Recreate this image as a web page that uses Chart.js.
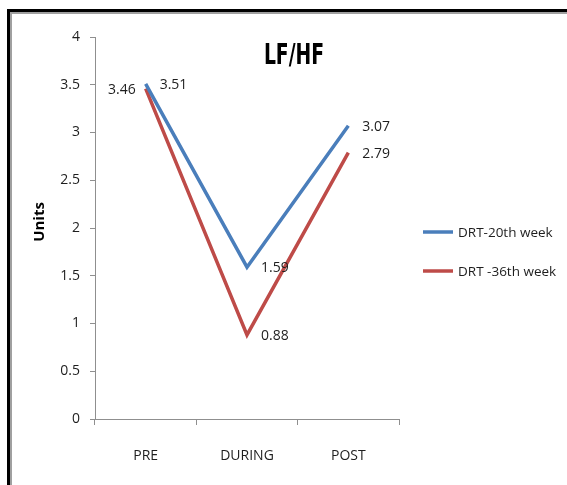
<!DOCTYPE html>
<html>
<head>
<meta charset="utf-8">
<script src="https://cdn.jsdelivr.net/npm/chart.js@4"></script>
<style>
  html, body { margin: 0; padding: 0; background: #fff; overflow: hidden; }
  #wrap { position: relative; width: 567px; height: 485px; }
  #c { position: absolute; left: 0; top: 0; }
  .edge { position: absolute; background: #000; }
</style>
</head>
<body>
<div id="wrap">
  <canvas id="c" width="567" height="485"></canvas>
  <!-- page frame: heavy black rule with a grey inner line -->
  <div class="edge" style="left:7px;top:9px;width:560px;height:3px"></div>
  <div class="edge" style="left:10px;top:12px;width:557px;height:2px;background:#a0a0a0"></div>
  <div class="edge" style="left:7px;top:9px;width:3px;height:476px"></div>
  <div class="edge" style="left:10px;top:12px;width:2px;height:473px;background:#a0a0a0"></div>
</div>
<script>
// LF/HF ratio across the session, two measurement weeks
const categories = ['PRE', 'DURING', 'POST'];
const week20 = [3.51, 1.59, 3.07];
const week36 = [3.46, 0.88, 2.79];
const seriesNames = ['DRT-20th week', 'DRT -36th week'];
const yMin = 0, yMax = 4, yStep = 0.5;
const chartTitle = 'LF/HF';
const yTitle = 'Units';

const BLUE = '#4A7EBB';
const RED = '#BE4B48';
const TEXT = '#1e1e1e';
const AXIS = '#8f8f8f';
const BODY_FONT = '"Open Sans", "DejaVu Sans", sans-serif';
const TITLE_FONT = '"DejaVu Sans Condensed", "DejaVu Sans", sans-serif';

// value labels next to each vertex; 'left' puts the text before the point
const labelSide = [['right', 'right', 'right'], ['left', 'right', 'right']];

const decorations = {
  id: 'decorations',
  afterDatasetsDraw(chart) {
    const ctx = chart.ctx;
    const area = chart.chartArea;
    ctx.save();

    // value labels
    ctx.font = '14px ' + BODY_FONT;
    ctx.fillStyle = TEXT;
    ctx.textBaseline = 'middle';
    chart.data.datasets.forEach((ds, di) => {
      const meta = chart.getDatasetMeta(di);
      meta.data.forEach((pt, i) => {
        const txt = String(ds.data[i]);
        if (labelSide[di][i] === 'left') {
          ctx.textAlign = 'right';
          ctx.fillText(txt, pt.x - 10, pt.y + 1);
        } else {
          ctx.textAlign = 'left';
          ctx.fillText(txt, pt.x + 14, pt.y + 1);
        }
      });
    });

    // chart title inside the plot, set in a narrow bold face
    ctx.save();
    ctx.translate(area.left + 199, area.top + 19);
    ctx.scale(0.72, 1);
    ctx.font = 'bold 29px ' + TITLE_FONT;
    ctx.fillStyle = '#000';
    ctx.textAlign = 'center';
    ctx.fillText(chartTitle, 0, 0);
    ctx.restore();

    // vertical axis title
    ctx.save();
    ctx.translate(40, (area.top + area.bottom) / 2 - 6);
    ctx.rotate(-Math.PI / 2);
    ctx.font = 'bold 15px ' + BODY_FONT;
    ctx.fillStyle = '#000';
    ctx.textAlign = 'center';
    ctx.fillText(yTitle, 0, 0);
    ctx.restore();

    // legend to the right of the plot
    const lx = area.right + 24;
    const ly = (area.top + area.bottom) / 2 + 4;
    ctx.font = '13.5px ' + BODY_FONT;
    ctx.textAlign = 'left';
    chart.data.datasets.forEach((ds, di) => {
      const y = ly + di * 39;
      ctx.strokeStyle = ds.borderColor;
      ctx.lineWidth = ds.borderWidth;
      ctx.beginPath();
      ctx.moveTo(lx, y);
      ctx.lineTo(lx + 30, y);
      ctx.stroke();
      ctx.fillStyle = TEXT;
      ctx.fillText(ds.label, lx + 35, y + 1);
    });
    ctx.restore();
  }
};

new Chart(document.getElementById('c'), {
  type: 'line',
  data: {
    labels: categories,
    datasets: [
      { label: seriesNames[0], data: week20, borderColor: BLUE, backgroundColor: BLUE, borderWidth: 3.5, pointRadius: 0, tension: 0 },
      { label: seriesNames[1], data: week36, borderColor: RED, backgroundColor: RED, borderWidth: 3.5, pointRadius: 0, tension: 0 }
    ]
  },
  options: {
    responsive: false,
    animation: false,
    devicePixelRatio: 1,
    layout: { padding: { left: 20, top: 37, right: 168, bottom: 0 } },
    plugins: { legend: { display: false }, title: { display: false }, tooltip: { enabled: false } },
    scales: {
      x: {
        offset: true,
        grid: { display: true, drawOnChartArea: false, drawTicks: true, tickLength: 6, color: AXIS, offset: true },
        border: { display: true, color: AXIS, width: 1 },
        ticks: { color: TEXT, font: { family: BODY_FONT, size: 14 }, padding: 23, maxRotation: 0 },
        afterFit(scale) { scale.height = 66; }
      },
      y: {
        min: yMin, max: yMax,
        grid: { display: true, drawOnChartArea: false, drawTicks: true, tickLength: 5, color: AXIS },
        border: { display: true, color: AXIS, width: 1 },
        ticks: {
          stepSize: yStep, color: TEXT, font: { family: BODY_FONT, size: 14 }, padding: 10,
          callback: (v) => String(Number(v.toFixed(1)))
        },
        afterFit(scale) { scale.width = 75; }
      }
    }
  },
  plugins: [decorations]
});
</script>
</body>
</html>
